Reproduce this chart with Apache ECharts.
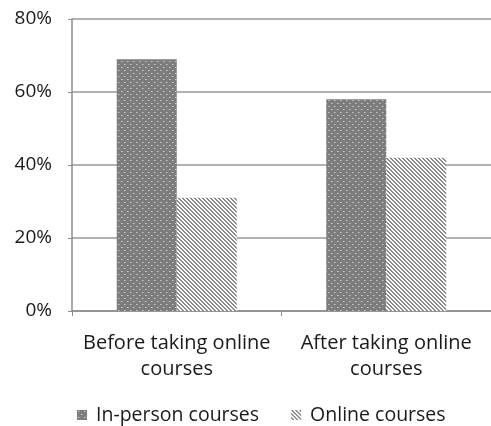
<!DOCTYPE html>
<html><head><meta charset="utf-8">
<script src="https://cdn.jsdelivr.net/npm/echarts@6/dist/echarts.min.js"></script>
<style>html,body{margin:0;padding:0;background:#fff}#c{width:491px;height:426px}</style>
</head><body><div id="c"></div>
<script>
const categories = ['Before taking online\ncourses', 'After taking online\ncourses'];
const seriesNames = ['In-person courses', 'Online courses'];
const inPerson = [69, 58];
const online = [31, 42];
const yTicks = [0, 20, 40, 60, 80];

function dotPattern() {
  const c = document.createElement('canvas');
  c.width = 6; c.height = 6;
  const g = c.getContext('2d');
  g.fillStyle = '#7d7d7d'; g.fillRect(0, 0, 6, 6);
  g.fillStyle = '#c8c8c8';
  g.fillRect(1, 1, 1, 1);
  g.fillRect(4, 4, 1, 1);
  g.fillStyle = '#a4a4a4';
  g.fillRect(2, 1, 1, 1);
  g.fillRect(5, 4, 1, 1);
  return c;
}
function stripePattern() {
  const c = document.createElement('canvas');
  c.width = 4; c.height = 4;
  const g = c.getContext('2d');
  g.fillStyle = '#ffffff'; g.fillRect(0, 0, 4, 4);
  g.fillStyle = '#8a8a8a';
  for (let y = 0; y < 4; y++) for (let x = 0; x < 4; x++) {
    const d = ((x - y) % 4 + 4) % 4;
    if (d === 0 || d === 1) g.fillRect(x, y, 1, 1);
  }
  return c;
}
const dotFill = { image: dotPattern(), repeat: 'repeat' };
const stripeFill = { image: stripePattern(), repeat: 'repeat' };

const chart = echarts.init(document.getElementById('c'), null, { renderer: 'canvas' });
const font = '"Open Sans", "Noto Sans", sans-serif';
chart.setOption({
  animation: false,
  textStyle: { fontFamily: font },
  grid: { left: 72, right: 0, top: 19, height: 292, containLabel: false },
  legend: {
    top: 400, left: 72,
    itemWidth: 10, itemHeight: 10, itemGap: 32,
    textStyle: { fontSize: 19.5, color: '#1a1a1a', fontFamily: font, padding: [0, 0, 0, 4] },
    data: [
      { name: seriesNames[0], icon: 'rect' },
      { name: seriesNames[1], icon: 'rect' }
    ]
  },
  xAxis: {
    type: 'category',
    data: categories,
    axisLine: { lineStyle: { color: '#8c8c8c', width: 1.5 } },
    axisTick: { show: true, length: 5, lineStyle: { color: '#8c8c8c' } },
    axisLabel: { interval: 0, fontSize: 20, color: '#1a1a1a', lineHeight: 26, margin: 19, fontFamily: font }
  },
  yAxis: {
    type: 'value',
    min: 0, max: 80, interval: 20,
    axisLine: { show: true, lineStyle: { color: '#8c8c8c', width: 1.5 } },
    axisTick: { show: true, length: 4, lineStyle: { color: '#8c8c8c' } },
    splitLine: { lineStyle: { color: '#999', width: 1.5 } },
    axisLabel: { fontSize: 19, color: '#1a1a1a', margin: 20, fontFamily: font,
      formatter: v => yTicks.includes(v) ? v + '%' : '' }
  },
  series: [
    { name: seriesNames[0], type: 'bar', data: inPerson, barWidth: 60, barGap: '0%',
      itemStyle: { color: dotFill } },
    { name: seriesNames[1], type: 'bar', data: online, barWidth: 60, barGap: '0%',
      itemStyle: { color: stripeFill } }
  ]
});
</script></body></html>
